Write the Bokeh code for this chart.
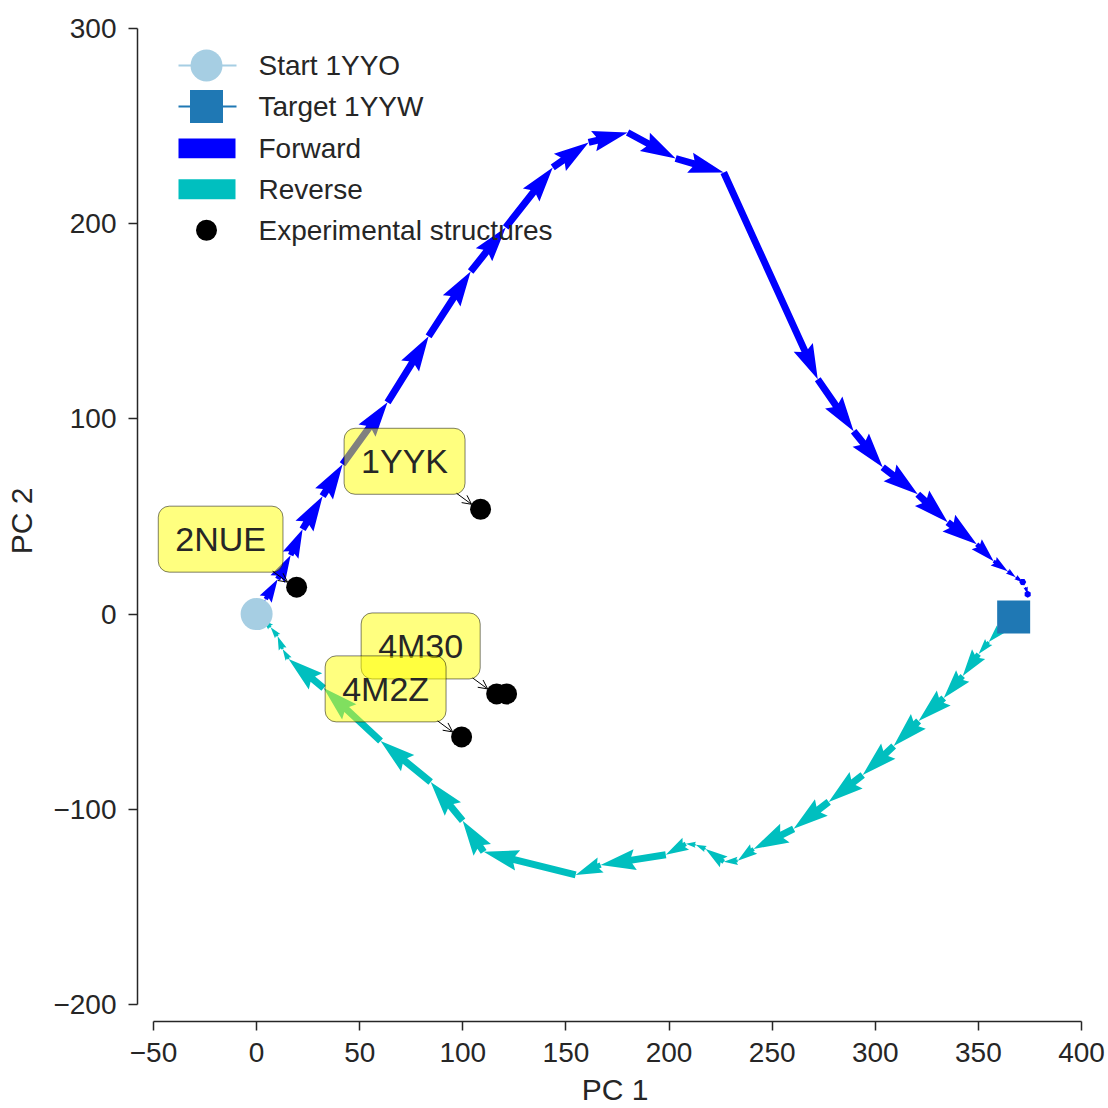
import numpy as np
from bokeh.plotting import figure
from bokeh.models import Range1d, FixedTicker, ColumnDataSource, Arrow, OpenHead
from bokeh.core.properties import value
from bokeh.embed import file_html
from bokeh.resources import INLINE

# ---------------- data ----------------
start_x = [0.0]
start_y = [0.0]
target_x = [367.1]
target_y = [-1.5]

forward_x = [0.0, 4.4, 10.2, 16.5, 22.3, 32.0, 41.7, 63.5, 83.4, 103.8, 120.8, 143.6,
             161.0, 179.9, 203.2, 226.5, 272.1, 289.5, 303.6, 320.6, 335.1, 349.2,
             357.4, 364.2, 368.1, 371.5, 372.9, 373.9, 373.9]
forward_y = [0.0, 7.7, 17.9, 30.2, 43.5, 60.4, 76.8, 108.5, 142.3, 175.5, 198.1, 228.8,
             241.6, 246.7, 233.4, 226.2, 120.3, 93.7, 75.2, 61.4, 47.1, 35.8,
             27.1, 22.0, 18.9, 16.4, 13.8, 10.2, 7.7]

reverse_x = [360.8, 355.0, 350.1, 342.4, 333.2, 321.0, 308.9, 293.9, 277.4, 260.4,
             241.0, 233.3, 226.5, 217.7, 212.9, 208.1, 198.4, 166.8, 154.7, 110.1,
             99.9, 84.4, 60.1, 32.5, 15.5, 12.6, 10.2, 6.8, 2.9]
reverse_y = [-7.7, -14.3, -20.5, -31.7, -43.0, -54.8, -67.6, -82.4, -96.2, -110.0,
             -120.3, -126.4, -126.9, -120.3, -118.2, -117.7, -123.3, -128.5, -133.6, -121.8,
             -105.9, -86.0, -65.0, -37.9, -23.0, -17.9, -11.3, -6.7, -2.6]

exp_x = [19.4, 108.6, 116.4, 121.2, 99.4]
exp_y = [13.8, 53.7, -40.9, -40.9, -62.9]

label_names = ["2NUE", "1YYK", "4M30", "4M2Z"]
label_x = [19.4, 108.6, 116.4, 99.4]
label_y = [13.8, 53.7, -40.9, -62.9]

legend_labels = ["Start 1YYO", "Target 1YYW", "Forward", "Reverse", "Experimental structures"]
x_ticks = [-50, 0, 50, 100, 150, 200, 250, 300, 350, 400]
y_ticks = [-200, -100, 0, 100, 200, 300]

# ---------------- layout ----------------
W = H = 1108
BL, BR, BT, BB = 137, 16, 20, 86
FW = W - BL - BR
FH = H - BT - BB
X0, X1 = -57.76, 405.33
Y0, Y1 = -208.70, 304.09
sx = FW / (X1 - X0)
sy = FH / (Y1 - Y0)

FONT = value("Liberation Sans")
TXT = "#262626"
C_FWD = "#0000ff"
C_REV = "#00bfbf"
C_START = "#a6cee3"
C_TARGET = "#1f78b4"

p = figure(width=W, height=H, x_range=Range1d(X0, X1), y_range=Range1d(Y0, Y1),
           output_backend="svg", toolbar_location=None,
           min_border_left=BL, min_border_right=BR, min_border_top=BT, min_border_bottom=BB,
           background_fill_color="white", border_fill_color="white")
p.outline_line_color = None
p.xgrid.visible = False
p.ygrid.visible = False
p.extra_x_ranges = {"px": Range1d(BL, BL + FW)}
p.extra_y_ranges = {"px": Range1d(BT + FH, BT)}

p.xaxis.ticker = FixedTicker(ticks=x_ticks)
p.yaxis.ticker = FixedTicker(ticks=y_ticks)
p.xaxis.bounds = (min(x_ticks), max(x_ticks))
p.yaxis.bounds = (min(y_ticks), max(y_ticks))
p.xaxis.major_label_overrides = {t: (str(t).replace("-", "\u2212")) for t in x_ticks}
p.yaxis.major_label_overrides = {t: (str(t).replace("-", "\u2212")) for t in y_ticks}
p.xaxis.axis_label = "PC 1"
p.yaxis.axis_label = "PC 2"
for ax in (p.xaxis[0], p.yaxis[0]):
    ax.axis_line_color = TXT
    ax.axis_line_width = 1.5
    ax.major_tick_line_color = TXT
    ax.major_tick_line_width = 1.5
    ax.major_tick_out = 9
    ax.major_tick_in = 0
    ax.minor_tick_out = 0
    ax.minor_tick_in = 0
    ax.major_label_text_font = "Liberation Sans"
    ax.major_label_text_font_size = "28px"
    ax.major_label_text_color = TXT
    ax.axis_label_text_font = "Liberation Sans"
    ax.axis_label_text_font_size = "30px"
    ax.axis_label_text_font_style = "normal"
    ax.axis_label_text_color = TXT
p.xaxis.major_label_standoff = 12
p.yaxis.major_label_standoff = 12
p.xaxis.axis_label_standoff = 8
p.yaxis.axis_label_standoff = 12


# ------------- quiver-like arrows (matplotlib geometry) -------------
def quiver_poly(xa, ya, xb, yb, w=7.0, hw=3.0, hl=5.0, hal=4.5, minshaft=1.0, minlength=1.0):
    dx = (xb - xa) * sx
    dy = (yb - ya) * sy
    Lp = np.hypot(dx, dy)
    L = Lp / w
    if Lp > 0:
        c, s = dx / Lp, dy / Lp
    else:
        c, s = 1.0, 0.0
    minsh = minshaft * hl
    if L < minlength:
        th = np.arange(0, 7) * np.pi / 3.0
        u = np.cos(th) * minlength * 0.5
        v = np.sin(th) * minlength * 0.5
    elif L < minsh:
        k = L / minsh
        u = np.array([0, minsh - hal, minsh - hl, minsh, minsh - hl, minsh - hal, 0]) * k
        v = np.array([0.5, 0.5, hw / 2, 0, -hw / 2, -0.5, -0.5]) * k
    else:
        u = np.array([0, L - hal, L - hl, L, L - hl, L - hal, 0])
        v = np.array([0.5, 0.5, hw / 2, 0, -hw / 2, -0.5, -0.5])
    ox = (u * c - v * s) * w
    oy = (u * s + v * c) * w
    return list(xa + ox / sx), list(ya + oy / sy)


def path_arrows(xs, ys):
    PX, PY = [], []
    for i in range(len(xs) - 1):
        a, b = quiver_poly(xs[i], ys[i], xs[i + 1], ys[i + 1])
        PX.append(a)
        PY.append(b)
    return PX, PY


fx, fy = path_arrows(forward_x, forward_y)
rx, ry = path_arrows(reverse_x, reverse_y)
p.patches(fx, fy, fill_color=C_FWD, line_color=None)
p.patches(rx, ry, fill_color=C_REV, line_color=None)

# start / target / experimental
p.scatter(start_x, start_y, size=32, marker="circle", fill_color=C_START, line_color=None)
p.scatter(target_x, target_y, size=33, marker="square", fill_color=C_TARGET, line_color=None)
p.scatter(exp_x, exp_y, size=21, marker="circle", fill_color="black", line_color=None)

# annotation arrows (screen offsets from the point)
tail_off = (-24, -16)
head_off = (-9, -5)
ann = ColumnDataSource(dict(
    xs=[x + tail_off[0] / sx for x in label_x],
    ys=[y - tail_off[1] / sy for y in label_y],
    xe=[x + head_off[0] / sx for x in label_x],
    ye=[y - head_off[1] / sy for y in label_y],
))
p.add_layout(Arrow(x_start="xs", y_start="ys", x_end="xe", y_end="ye", source=ann,
                   line_color="black", line_width=1,
                   end=OpenHead(size=9, line_color="black", line_width=1)))

# annotation labels with rounded translucent boxes
p.text(x=label_x, y=label_y, text=label_names, x_offset=-76, y_offset=-48,
       text_font=FONT, text_font_size=value("34px"), text_color=TXT,
       text_align="center", text_baseline="middle",
       background_fill_color="yellow", background_fill_alpha=0.5,
       border_line_color="black", border_line_alpha=0.5, border_line_width=1,
       padding=(17, 14), border_radius=11)

# ---------------- legend (drawn in pixel space) ----------------
rows = [65, 106, 148, 189, 230]
gx0, gx1, gxc, tx = 178, 236, 206, 258
p.segment(x0=[gx0], y0=[rows[0]], x1=[gx1], y1=[rows[0]], line_color=C_START, line_width=2,
          x_range_name="px", y_range_name="px")
p.scatter([gxc], [rows[0]], size=32, marker="circle", fill_color=C_START, line_color=None,
          x_range_name="px", y_range_name="px")
p.segment(x0=[gx0], y0=[rows[1]], x1=[gx1], y1=[rows[1]], line_color=C_TARGET, line_width=2,
          x_range_name="px", y_range_name="px")
p.scatter([gxc], [rows[1]], size=33, marker="square", fill_color=C_TARGET, line_color=None,
          x_range_name="px", y_range_name="px")
p.quad(left=[gx0], right=[gx1 - 1], top=[rows[2] - 10], bottom=[rows[2] + 10],
       fill_color=C_FWD, line_color=None, x_range_name="px", y_range_name="px")
p.quad(left=[gx0], right=[gx1 - 1], top=[rows[3] - 10], bottom=[rows[3] + 10],
       fill_color=C_REV, line_color=None, x_range_name="px", y_range_name="px")
p.scatter([gxc], [rows[4]], size=21, marker="circle", fill_color="black", line_color=None,
          x_range_name="px", y_range_name="px")
p.text(x=[tx] * 5, y=rows, text=legend_labels, text_font=FONT, text_font_size=value("28px"),
       text_color=TXT, text_align="left", text_baseline="middle",
       x_range_name="px", y_range_name="px")

open("out.html", "w").write(file_html(p, INLINE))
